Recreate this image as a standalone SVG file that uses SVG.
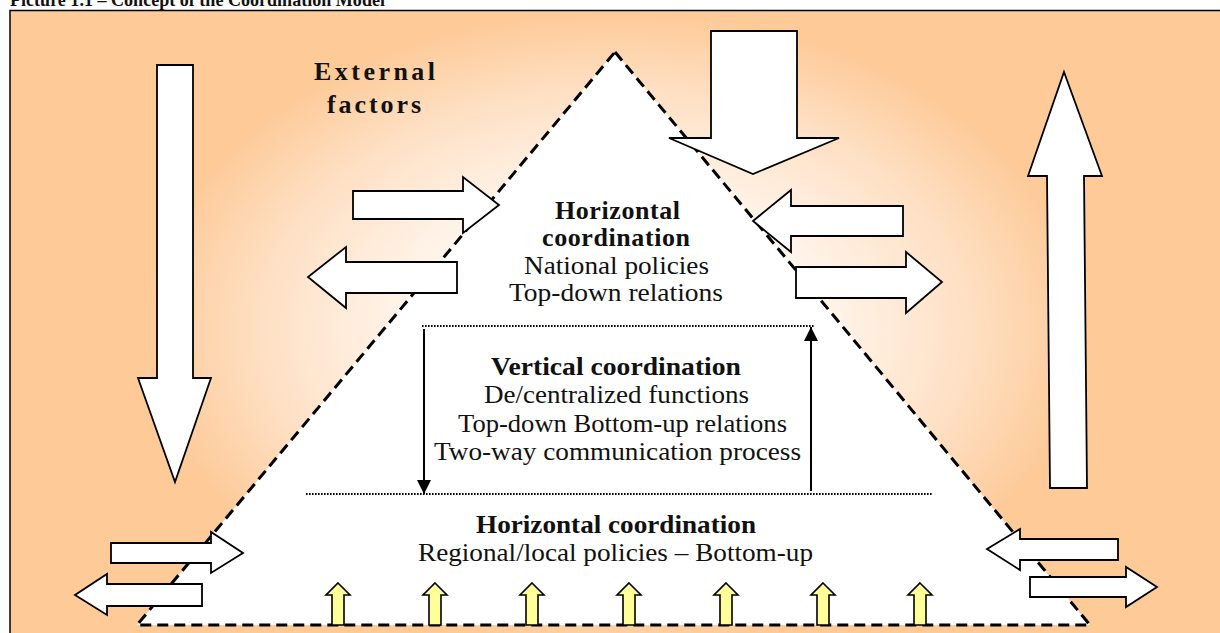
<svg xmlns="http://www.w3.org/2000/svg" width="1220" height="633" viewBox="0 0 1220 633" font-family="'Liberation Serif', 'Times New Roman', Tinos, 'DejaVu Serif', serif">
<defs>
<radialGradient id="bg" gradientUnits="userSpaceOnUse" cx="615" cy="330" r="470" gradientTransform="translate(615 330) scale(1 0.68) translate(-615 -330)">
<stop offset="0" stop-color="#FFFFFF"/>
<stop offset="0.45" stop-color="#FFF4EA"/>
<stop offset="0.75" stop-color="#FEE0C4"/>
<stop offset="1" stop-color="#FDCA98"/>
</radialGradient>
<marker id="ah" viewBox="0 0 14 14" refX="14" refY="7" markerWidth="14" markerHeight="14" markerUnits="userSpaceOnUse" orient="auto">
<path d="M0,0 L14,7 L0,14 z" fill="#000"/>
</marker>
</defs>
<style>
.blk{fill:#fff;stroke:#000;stroke-width:1.8;stroke-linejoin:miter}
.yel{fill:#FFFF99;stroke:#000;stroke-width:1.6}
text{font-family:'Liberation Serif','Times New Roman',Tinos,'DejaVu Serif',serif;font-size:26px;fill:#111}
.b{font-weight:bold}
.dot{stroke:#000;stroke-width:2;stroke-dasharray:1.6 1.4;fill:none}
.va{stroke:#000;stroke-width:2;fill:none;marker-end:url(#ah)}
</style>
<rect width="1220" height="633" fill="#fff"/>
<text class="b" x="10" y="6" textLength="375" lengthAdjust="spacingAndGlyphs" style="font-size:18px">Picture 1.1 – Concept of the Coordination Model</text>
<rect id="frame" x="10" y="10.5" width="1215" height="630" fill="url(#bg)" stroke="#000" stroke-width="1.5"/>

<g id="pyramid">
<polygon points="615,52 1090,625 137,625" fill="#fff" stroke="#000" stroke-width="3" stroke-dasharray="11 6"/>
</g>

<g id="external-factors">
<text class="b" x="314" y="80" textLength="121" lengthAdjust="spacing">External</text>
<text class="b" x="327" y="113" textLength="94" lengthAdjust="spacing">factors</text>
</g>

<g id="big-arrows">
<polygon id="arrow-left-down" class="blk" points="157,65 193,65 193,378 211,378 175,482 138,378 157,378"/>
<polygon id="arrow-top-down" class="blk" points="711,31 797,31 797,138 839,138 753,174 669,138 711,138"/>
<polygon id="arrow-right-up" class="blk" points="1064,72 1102,176 1084,176 1087,488 1050,488 1047,176 1028,176"/>
</g>

<g id="side-arrows">
<polygon class="blk" points="353,191 463,191 463,177 499,205 463,233 463,219 353,219"/>
<polygon class="blk" points="457,262 346,262 346,247 308,277 346,308 346,293 457,293"/>
<polygon class="blk" points="903,206 791,206 791,190 753,221 791,252 791,236 903,236"/>
<polygon class="blk" points="796,267 906,267 906,252 942,282 906,313 906,298 796,298"/>
<polygon class="blk" points="111,543 211,543 211,532 243,553 211,573 211,563 111,563"/>
<polygon class="blk" points="202,584 107,584 107,574 75,595 107,615 107,606 202,606"/>
<polygon class="blk" points="1118,539 1020,539 1020,529 987,549 1020,570 1020,560 1118,560"/>
<polygon class="blk" points="1030,577 1126,577 1126,567 1157,587 1126,607 1126,597 1030,597"/>
</g>

<g id="bottom-up-arrows">
<polygon class="yel" points="338,583 350,595 344,595 344,625 332,625 332,595 326,595"/>
<polygon class="yel" points="435,583 447,595 441,595 441,625 429,625 429,595 423,595"/>
<polygon class="yel" points="532,583 544,595 538,595 538,625 526,625 526,595 520,595"/>
<polygon class="yel" points="629,583 641,595 635,595 635,625 623,625 623,595 617,595"/>
<polygon class="yel" points="726,583 738,595 732,595 732,625 720,625 720,595 714,595"/>
<polygon class="yel" points="823,583 835,595 829,595 829,625 817,625 817,595 811,595"/>
<polygon class="yel" points="920,583 932,595 926,595 926,625 914,625 914,595 908,595"/>
</g>

<g id="level-national">
<text class="b" x="555" y="219" textLength="125" lengthAdjust="spacing">Horizontal</text>
<text class="b" x="542" y="246" textLength="148" lengthAdjust="spacing">coordination</text>
<text x="524" y="274" textLength="185" lengthAdjust="spacingAndGlyphs">National policies</text>
<text x="509" y="301" textLength="214" lengthAdjust="spacingAndGlyphs">Top-down relations</text>
</g>

<g id="level-vertical">
<line class="dot" x1="422" y1="326" x2="814" y2="326"/>
<line class="dot" x1="306" y1="494" x2="932" y2="494"/>
<text class="b" x="491" y="375" textLength="250" lengthAdjust="spacingAndGlyphs">Vertical coordination</text>
<text x="484" y="403" textLength="265" lengthAdjust="spacingAndGlyphs">De/centralized functions</text>
<text x="458" y="432" textLength="329" lengthAdjust="spacingAndGlyphs">Top-down Bottom-up relations</text>
<text x="434" y="460" textLength="367" lengthAdjust="spacingAndGlyphs">Two-way communication process</text>
</g>

<g id="level-regional">
<text class="b" x="476" y="533" textLength="280" lengthAdjust="spacingAndGlyphs">Horizontal coordination</text>
<text x="418" y="561" textLength="395" lengthAdjust="spacingAndGlyphs">Regional/local policies – Bottom-up</text>
</g>

<g id="connectors">
<line class="va" x1="424" y1="329" x2="424" y2="494"/>
<line class="va" x1="811" y1="491" x2="811" y2="327"/>
</g>
</svg>
